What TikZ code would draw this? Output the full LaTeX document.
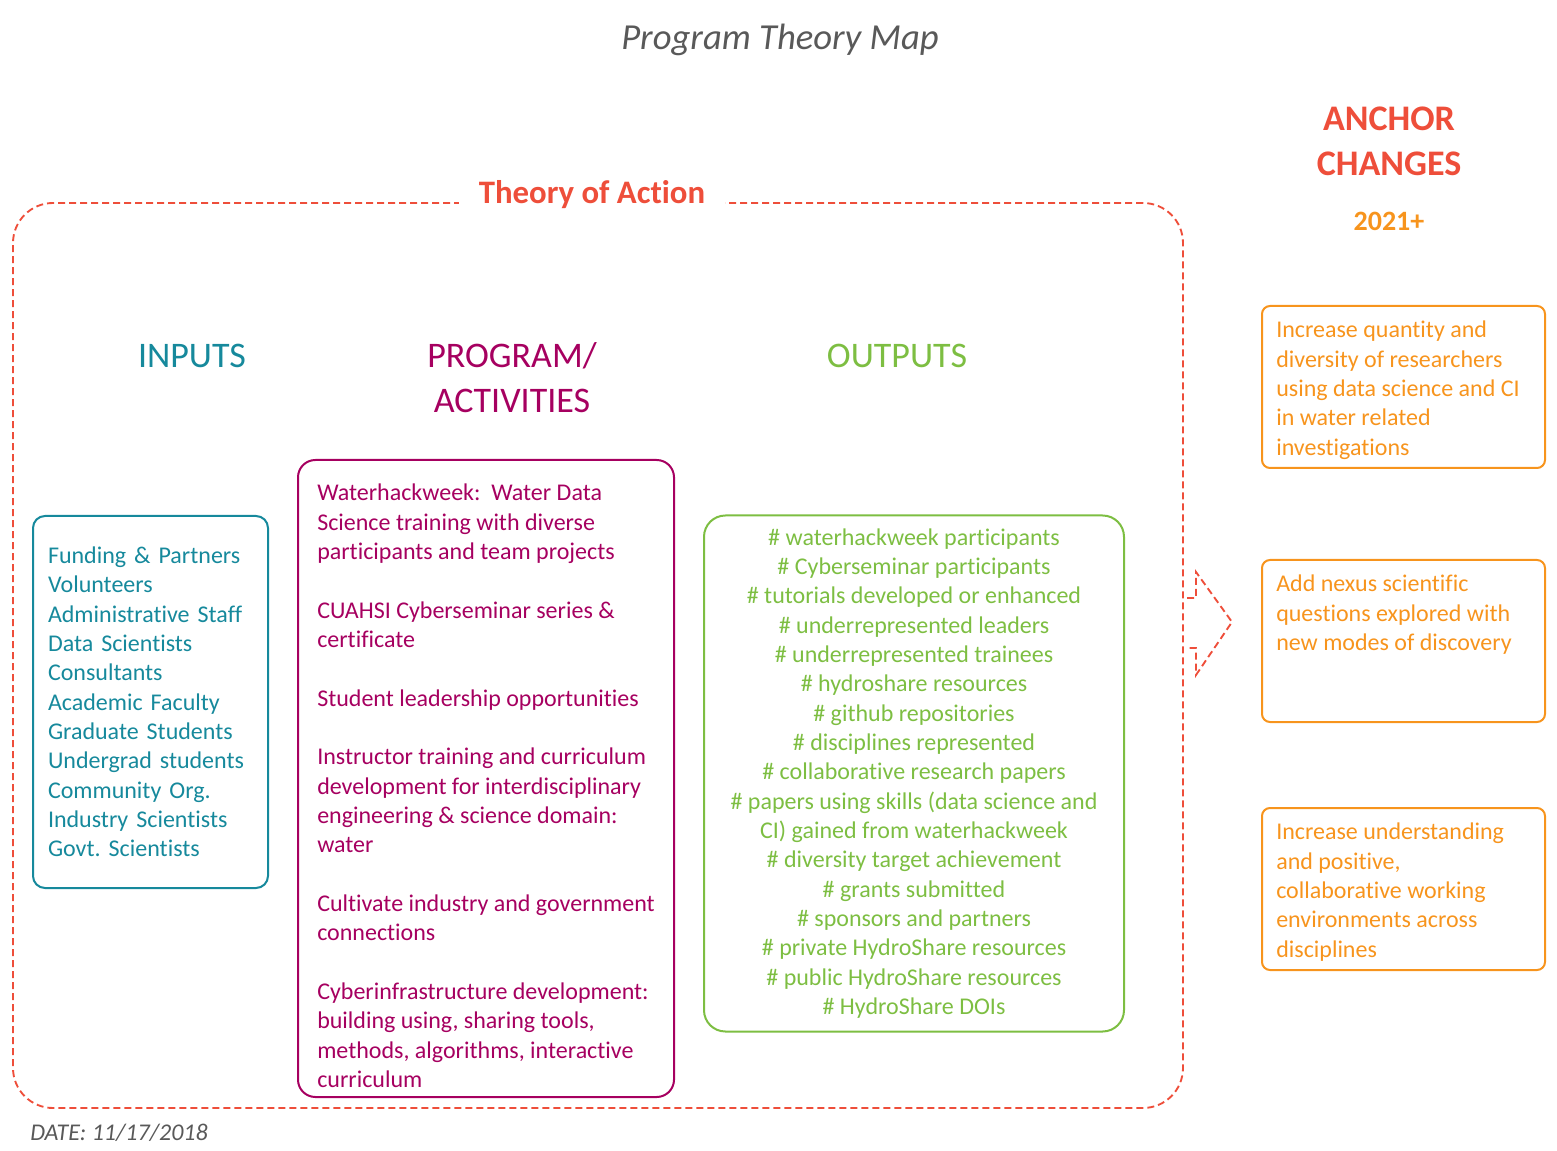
\documentclass[tikz,border=0pt]{standalone}
\usepackage{fontspec}
\setmainfont{Carlito}[Ligatures=NoCommon]
\usepackage{xcolor}
\usepackage{tikz}
\usetikzlibrary{positioning, calc}
\frenchspacing

\definecolor{input_teal}{RGB}{22,137,156}
\definecolor{prog_magenta}{RGB}{166,0,96}
\definecolor{out_green}{RGB}{125,190,66}
\definecolor{anchor_orange}{RGB}{247,148,29}
\definecolor{action_red}{RGB}{238,78,58}
\definecolor{note_gray}{RGB}{89,89,89}

\begin{document}
\begin{tikzpicture}[
        x=0.75pt, y=-0.75pt,
        body_font/.style = {font=\fontsize{18}{22}\selectfont},
        head_font/.style = {font=\fontsize{27}{33.75}\selectfont},
        action_frame/.style = {rectangle, draw=action_red, dashed, dash pattern=on 5.25pt off 3pt, line width=1.4pt, rounded corners=30pt, minimum width=877.5pt, minimum height=678.75pt},
        input_box/.style = {rectangle, draw=input_teal, line width=1.5pt, rounded corners=9pt, minimum width=176.25pt, minimum height=279pt, text width=153.75pt, align=left, text=input_teal, body_font},
        prog_box/.style = {rectangle, draw=prog_magenta, line width=1.5pt, rounded corners=13pt, minimum width=282pt, minimum height=477.75pt},
        out_box/.style = {rectangle, draw=out_green, line width=1.5pt, rounded corners=16pt, minimum width=315pt, minimum height=387pt, align=center, text=out_green, body_font},
        change_box/.style = {rectangle, draw=anchor_orange, line width=1.5pt, rounded corners=6pt, minimum width=212.25pt, minimum height=121.5pt},
        box_text/.style = {anchor=north west, inner sep=0pt, align=left, body_font},
        label_text/.style = {text=#1, head_font, align=center}
    ]
    \useasboundingbox (0,0) rectangle (1557,1151);

    % Title
    \node [text=note_gray, font=\fontsize{27.5}{33}\selectfont\itshape] (title) at (780,40) {Program Theory Map};

    % Theory of Action frame
    \node [action_frame] (toa) at (598,655.5) {};
    \node [fill=white, inner xsep=14.5pt, text=action_red, font=\fontsize{24.6}{30}\selectfont\bfseries] (toa_title) at (592,195) {Theory of Action};

    % Column headings
    \node [label_text=input_teal] (h_inputs) at (192,356) {INPUTS};
    \node [label_text=prog_magenta] (h_prog) at (512,378) {PROGRAM/\\ACTIVITIES};
    \node [label_text=out_green] (h_outputs) at (897,356) {OUTPUTS};

    % Inputs
    \node [input_box] (inputs) at (150.5,702) {Funding \& Partners\\Volunteers\\Administrative Staff\\Data Scientists\\Consultants\\Academic Faculty\\Graduate Students\\Undergrad students\\Community Org.\\Industry Scientists\\Govt. Scientists};

    % Program / activities
    \node [prog_box] (prog) at (486,778.5) {};
    \node [box_text, text=prog_magenta, xshift=15pt, yshift=-18.75pt] at (prog.north west) (prog_txt) {Waterhackweek:~ Water Data\\Science training with diverse\\participants and team projects\\[22pt]CUAHSI Cyberseminar series \&\\certificate\\[22pt]Student leadership opportunities\\[22pt]Instructor training and curriculum\\development for interdisciplinary\\engineering \& science domain:\\water\\[22pt]Cultivate industry and government\\connections\\[22pt]Cyberinfrastructure development:\\building using, sharing tools,\\methods, algorithms, interactive\\curriculum};

    % Outputs
    \node [out_box] (outputs) at (914,773.5) {\# waterhackweek participants\\\# Cyberseminar participants\\\# tutorials developed or enhanced\\\# underrepresented leaders\\\# underrepresented trainees\\\# hydroshare resources\\\# github repositories\\\# disciplines represented\\\# collaborative research papers\\\# papers using skills (data science and\\CI) gained from waterhackweek\\\# diversity target achievement\\\# grants submitted\\\# sponsors and partners\\\# private HydroShare resources\\\# public HydroShare resources\\\# HydroShare DOIs};

    % Anchor changes
    \node [label_text=action_red, font=\fontsize{27}{33.75}\selectfont\bfseries] (h_anchor) at (1389,141) {ANCHOR\\CHANGES};
    \node [text=anchor_orange, font=\fontsize{21}{25}\selectfont\bfseries] (h_year) at (1389,221) {2021+};

    \node [change_box] (chg1) at (1403.5,387) {};
    \node [change_box] (chg2) at (1403.5,641) {};
    \node [change_box] (chg3) at (1403.5,889) {};
    \node [box_text, text=anchor_orange, xshift=11.25pt, yshift=-12pt] at (chg1.north west) (chg1_txt) {Increase quantity and\\diversity of researchers\\using data science and CI\\in water related\\investigations};
    \node [box_text, text=anchor_orange, xshift=11.25pt, yshift=-12pt] at (chg2.north west) (chg2_txt) {Add nexus scientific\\questions explored with\\new modes of discovery};
    \node [box_text, text=anchor_orange, xshift=11.25pt, yshift=-12pt] at (chg3.north west) (chg3_txt) {Increase understanding\\and positive,\\collaborative working\\environments across\\disciplines};

    % Block arrow out of the frame
    \coordinate (arr_tail) at (1187,622);
    \draw [draw=action_red, dashed, dash pattern=on 5.25pt off 3pt, line width=1.4pt, line join=miter] (arr_tail) ++(0,-24) -- ++(9,0) -- ++(0,-26) -- ++(36,50) -- ++(-36,53) -- ++(0,-27) -- ++(-9,0);

    % Date
    \node [text=note_gray, font=\fontsize{18}{22}\selectfont\itshape] (date) at (119,1133) {DATE: 11/17/2018};

\end{tikzpicture}
\end{document}
